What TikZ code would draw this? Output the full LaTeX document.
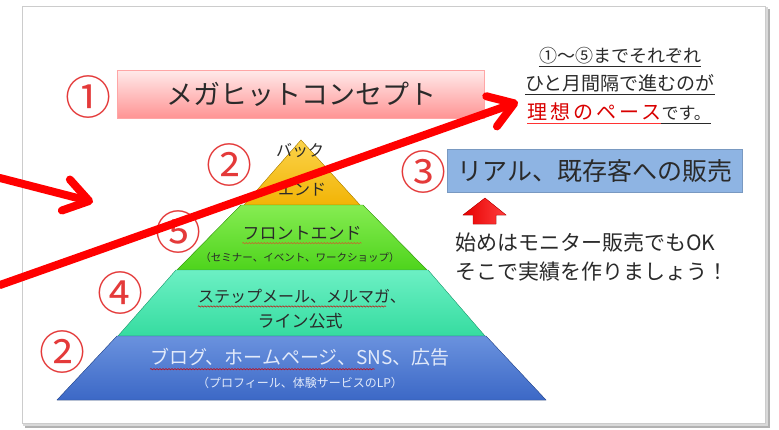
\documentclass[tikz,border=0pt]{standalone}
\usepackage{fontspec}
\newfontfamily\jp{Noto Sans CJK JP}
\usetikzlibrary{arrows.meta,decorations.pathmorphing}
\definecolor{numred}{HTML}{E43A3A}
\definecolor{arrowred}{HTML}{FF0000}
\definecolor{boxblue}{HTML}{8EB4E3}
\definecolor{txt}{HTML}{2A2A2A}
\definecolor{ytop}{HTML}{FBD34A}
\definecolor{ybot}{HTML}{F2B406}
\definecolor{gtop}{HTML}{86EC52}
\definecolor{gbot}{HTML}{4ED41C}
\definecolor{ttop}{HTML}{6CF0C4}
\definecolor{tbot}{HTML}{36DCA0}
\definecolor{btop}{HTML}{6A92DE}
\definecolor{bbot}{HTML}{3C68C6}
\definecolor{btxt}{HTML}{E2EAFA}
\tikzset{
  jpf/.style={font=\jp\fontsize{#1pt}{#1pt}\selectfont},
  num/.style={jpf=46, text=numred, inner sep=0pt},
  lay/.style={text=txt, inner sep=0pt},
  redarrow/.style={draw=arrowred, line width=8pt, line cap=round,
     -{Straight Barb[round, length=24pt, width=32pt]}},
  squiggle/.style={draw=#1, line width=0.5pt,
     decorate, decoration={snake, amplitude=0.7pt, segment length=3pt}},
}
\begin{document}
\begin{tikzpicture}[x=1pt,y=-1pt]
\useasboundingbox (0,0) rectangle (779,429);
% frame with shadow
\fill[black!30] (25,9) rectangle (770,428);
\fill[black!15] (23,7) rectangle (768,426);
\fill[white, draw=black!20, line width=0.6pt] (22,6) rectangle (765,423);

% concept box
\node[jpf=27, text=txt, minimum width=367pt, minimum height=48pt,
      top color=red!8, bottom color=red!42, draw=red!35, inner sep=0pt]
      (concept) at (301,94) {メガヒットコンセプト};
\node[num] (n1) at (88,97) {①};

% right text block
\node[jpf=18, text=txt, anchor=base, inner sep=0pt] (l1) at (620,62) {①〜⑤までそれぞれ};
\node[jpf=19, text=txt, anchor=base, inner sep=0pt] (l2) at (620,90) {ひと月間隔で進むのが};
\node[font=\jp\fontsize{20pt}{20pt}\selectfont\addfontfeature{LetterSpace=15}, text=red!85!black, anchor=base west, inner sep=0pt] (l3a) at (527,119) {理想のペース};
\node[jpf=17, text=txt, anchor=base west, inner sep=0pt] (l3b) at (l3a.base east) {です。};
\draw[txt, line width=0.8pt] ([yshift=-4pt]l1.base west) -- ([yshift=-4pt]l1.base east);
\draw[txt, line width=0.8pt] ([yshift=-4pt]l2.base west) -- ([yshift=-4pt]l2.base east);
\draw[red!80, line width=0.8pt] ([yshift=-4pt]l3a.base west) -- ([yshift=-4pt]l3a.base east);
\draw[txt, line width=0.8pt] ([yshift=-4pt]l3b.base west) -- ([yshift=-4pt]l3b.base east);

% pyramid
\fill[top color=ytop, bottom color=ybot, draw=ybot!80!black, line width=0.4pt]
  (301,140) -- (360,205) -- (244,205) -- cycle;
\fill[top color=gtop, bottom color=gbot, draw=gbot!80!black, line width=0.4pt]
  (241,205) -- (363,205) -- (427,270) -- (177,270) -- cycle;
\fill[top color=ttop, bottom color=tbot, draw=tbot!80!black, line width=0.4pt]
  (176,270) -- (428,270) -- (485,336) -- (118,336) -- cycle;
\fill[top color=btop, bottom color=bbot, draw=bbot!80!black, line width=0.4pt]
  (117,336) -- (486,336) -- (546,400) -- (57,400) -- cycle;

\node[lay, jpf=16] (back1) at (300,151) {バック};
\node[lay, jpf=16] (back2) at (302,190) {エンド};
\node[lay, jpf=17] (front1) at (302,233) {フロントエンド};
\node[lay, jpf=10.5] (front2) at (300,258) {（セミナー、イベント、ワークショップ）};
\node[lay, jpf=16] (step1) at (302,296) {ステップメール、メルマガ、};
\node[lay, jpf=17] (step2) at (300,321) {ライン公式};
\node[lay, jpf=19, text=btxt] (blog1) at (300,357) {ブログ、ホームページ、SNS、広告};
\node[lay, jpf=12, text=btxt] (blog2) at (300,383) {（プロフィール、体験サービスのLP）};

\draw[squiggle=brown!70!red] ([yshift=-3pt]front1.south west) -- ([yshift=-3pt]front1.south east);
\draw[squiggle=red!80!black] ([yshift=-3pt]step1.south west) -- ([xshift=-20pt,yshift=-3pt]step1.south east);
\draw[squiggle=red!80!black] ([yshift=-3pt]blog1.south west) -- ([xshift=-75pt,yshift=-3pt]blog1.south east);

\node[num] (n2a) at (229,165) {②};
\node[num] (n5) at (178,232) {⑤};
\node[num] (n4) at (120,293) {④};
\node[num] (n2b) at (62,352) {②};
\node[num] (n3) at (423,172) {③};

% real sales box
\node[jpf=25, text=txt, fill=boxblue, draw=boxblue!85!black, line width=0.4pt,
      minimum width=295pt, minimum height=43pt, inner sep=0pt] (real) at (595,171) {リアル、既存客への販売};

% red up arrow
\fill[left color=red!90!black, right color=red!75!white, draw=red!80!black, line width=0.4pt]
  (485,198) -- (506,215) -- (496,215) -- (496,224) -- (473,224) -- (473,215) -- (463,215) -- cycle;

\node[jpf=21, text=txt, anchor=west, inner sep=0pt] (note1) at (455,243) {始めはモニター販売でもOK};
\node[jpf=21, text=txt, anchor=west, inner sep=0pt] (note2) at (455,272) {そこで実績を作りましょう！};

% big red arrows
\coordinate (a1s) at (0,178);
\coordinate (a1e) at (93,202);
\coordinate (a2s) at (0,285);
\coordinate (a2e) at (518,102);
\draw[redarrow] (a1s) -- (a1e);
\draw[redarrow] (a2s) -- (a2e);
\end{tikzpicture}
\end{document}
